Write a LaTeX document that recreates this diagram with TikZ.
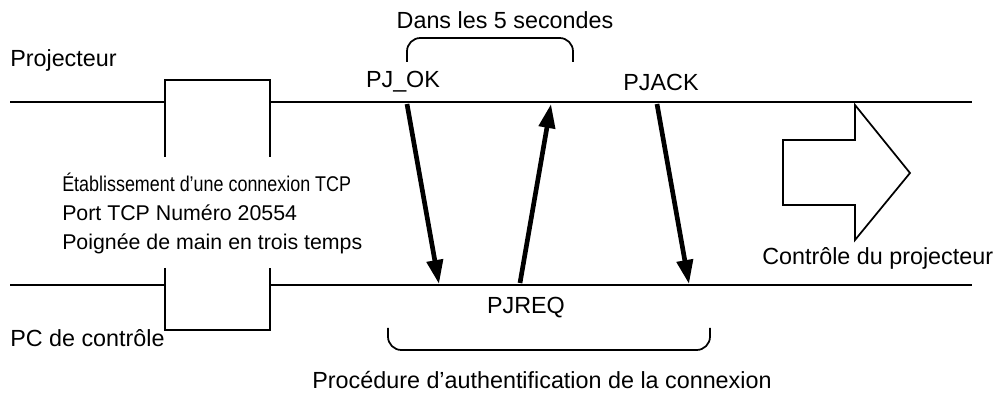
\documentclass[tikz,border=0pt]{standalone}
\usepackage{fontspec}
\setmainfont{Liberation Sans}
\usetikzlibrary{positioning, arrows.meta, decorations.pathreplacing}
\tikzset{lbl/.style={font=\fontsize{17.5}{19}\selectfont, inner sep=0pt},
	tcp/.style={lbl, anchor=west, font=\fontsize{16}{18}\selectfont},
	msg/.style={line width=3.5pt, -{Triangle[length=18pt, width=12pt]}},
	wire/.style={line width=2.2pt},
	box/.style={line width=1.3pt}}
\begin{document}
\begin{tikzpicture}[x=0.75pt, y=-0.75pt]
	\useasboundingbox (0,0) rectangle (1003,409);
	% time lines
	\coordinate (pjL) at (10,102);
	\coordinate (pjR) at (972,102);
	\coordinate (pcL) at (10,285);
	\coordinate (pcR) at (972,285);
	\draw[wire] (pjL) -- (165,102) (270,102) -- (pjR);
	\draw[wire] (pcL) -- (165,285) (270,285) -- (pcR);
	% TCP box
	\draw[box] (165,157) -- (165,80) -- (270,80) -- (270,157);
	\draw[box] (165,268) -- (165,330) -- (270,330) -- (270,268);
	\node[lbl, anchor=west] (proj) at (10,60) {Projecteur};
	\node[lbl, anchor=west] (pc) at (10,338) {PC de contrôle};
	\node[tcp] (tcpA) at (62,182) {\scalebox{0.84}[1]{Établissement d’une connexion TCP}};
	\node[tcp] (tcpB) at (62,213) {Port TCP Numéro 20554};
	\node[tcp] (tcpC) at (62,244) {Poignée de main en trois temps};
	% messages
	\coordinate (okS) at (407,104);
	\coordinate (okE) at (439,284);
	\coordinate (reqS) at (520,283);
	\coordinate (reqE) at (551,104);
	\coordinate (ackS) at (657,104);
	\coordinate (ackE) at (689,284);
	\draw[msg] (okS) -- (okE);
	\draw[msg] (reqS) -- (reqE);
	\draw[msg] (ackS) -- (ackE);
	\node[lbl] (ok) at (403,82) {PJ\_OK};
	\node[lbl] (ack) at (661,82) {PJACK};
	\node[lbl] (req) at (526,308) {PJREQ};
	% braces
	\draw[box, rounded corners=10pt] (407,62) -- (407,38) -- (573,38) -- (573,62);
	\node[lbl] (five) at (505,20) {Dans les 5 secondes};
	\draw[box, rounded corners=10pt] (388,328) -- (388,350) -- (710,350) -- (710,328);
	\node[lbl] (auth) at (542,380) {Procédure d’authentification de la connexion};
	% control arrow
	\draw[box, fill=white] (783,140) -- (855,140) -- (855,105) -- (910,173) -- (855,240) -- (855,205) -- (783,205) -- cycle;
	\node[lbl, anchor=west] (ctrl) at (762,258) {Contrôle du projecteur};
\end{tikzpicture}
\end{document}
